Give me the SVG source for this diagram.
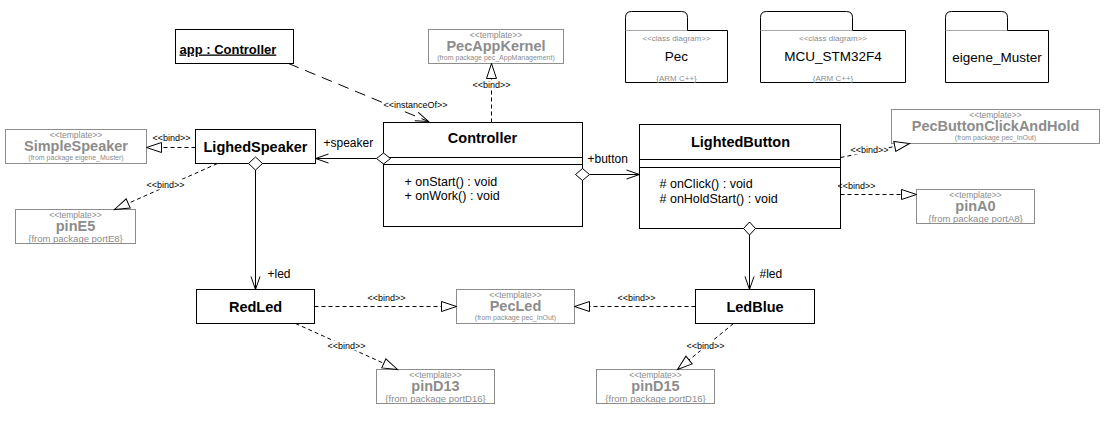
<svg xmlns="http://www.w3.org/2000/svg" width="1110" height="421" viewBox="0 0 1110 421">
<style>
text{font-family:"Liberation Sans",Arial,sans-serif}
.box{fill:#fff;stroke:#000;stroke-width:1}
.tbox{fill:#fff;stroke:#8c8c8c;stroke-width:1}
.cn{font-size:14.5px;font-weight:bold;text-anchor:middle;fill:#000}
.op{font-size:12.5px;fill:#000}
.rl{font-size:12px;fill:#000}
.st{font-size:9px;fill:#000;text-anchor:middle}
.tt{font-size:8.5px;fill:#8c8c8c;text-anchor:middle}
.tn{font-size:14.5px;font-weight:bold;fill:#8c8c8c;text-anchor:middle}
.tf{font-size:7px;fill:#8c8c8c;text-anchor:middle}
.tf2{font-size:9.5px;fill:#8c8c8c;text-anchor:middle}
.pk{fill:none;stroke:#000;stroke-width:1}
.pkg{stroke:#aaa;stroke-width:1}
.ps{font-size:8px;fill:#8c8c8c;text-anchor:middle}
.pn{font-size:13.5px;fill:#000;text-anchor:middle}
.ln{fill:none;stroke:#000;stroke-width:1}
.d{stroke-dasharray:4,3}
.ld{stroke-dasharray:11,7}
.bg{fill:#fff;stroke:none}
.dia{fill:#fff;stroke:#000;stroke-width:1}
</style>
<defs>
<marker id="tri" markerUnits="userSpaceOnUse" markerWidth="18" markerHeight="12" viewBox="0 0 18 12" refX="16" refY="6" orient="auto">
<path d="M1,1 L16,6 L1,11 z" fill="#fff" stroke="#000" stroke-width="1"/>
</marker>
<marker id="open" markerUnits="userSpaceOnUse" markerWidth="16" markerHeight="12" viewBox="0 0 16 12" refX="14" refY="6" orient="auto">
<path d="M1,1.5 L14,6 L1,10.5" fill="none" stroke="#000" stroke-width="1"/>
</marker>
</defs>
<rect x="0" y="0" width="1110" height="421" fill="#fff"/>
<g transform="translate(0.5,0.5)">

<g id="app">
  <rect class="box" x="175" y="29" width="118" height="34"/>
  <text x="179" y="53" font-size="13px" font-weight="bold" text-decoration="underline">app : Controller</text>
</g>

<g id="PecAppKernel">
  <rect class="tbox" x="428" y="29" width="135" height="34"/>
  <text class="tt" x="495.5" y="37">&lt;&lt;template&gt;&gt;</text>
  <text class="tn" x="495.5" y="50">PecAppKernel</text>
  <text class="tf" x="495.5" y="59">(from package pec_AppManagement)</text>
</g>

<g id="Controller">
  <rect class="box" x="383" y="122" width="199" height="104"/>
  <line class="ln" x1="383" y1="157" x2="582" y2="157"/>
  <line class="ln" x1="383" y1="164" x2="582" y2="164"/>
  <text class="cn" x="482" y="142">Controller</text>
  <text class="op" x="404" y="185">+ onStart() : void</text>
  <text class="op" x="404" y="199">+ onWork() : void</text>
</g>

<g id="LighedSpeaker">
  <rect class="box" x="195" y="129" width="120" height="34"/>
  <text class="cn" x="255" y="151">LighedSpeaker</text>
</g>

<g id="SimpleSpeaker">
  <rect class="tbox" x="5" y="129" width="141" height="34"/>
  <text class="tt" x="75.5" y="137">&lt;&lt;template&gt;&gt;</text>
  <text class="tn" x="75.5" y="150">SimpleSpeaker</text>
  <text class="tf" x="75.5" y="159">(from package eigene_Muster)</text>
</g>

<g id="pinE5">
  <rect class="tbox" x="15" y="209" width="120" height="34"/>
  <text class="tt" x="75" y="217">&lt;&lt;template&gt;&gt;</text>
  <text class="tn" x="75" y="230">pinE5</text>
  <text class="tf2" x="75" y="241">{from package portE8}</text>
</g>

<g id="LightedButton">
  <rect class="box" x="639" y="124" width="201" height="104"/>
  <line class="ln" x1="639" y1="159" x2="840" y2="159"/>
  <line class="ln" x1="639" y1="167" x2="840" y2="167"/>
  <text class="cn" x="740" y="146">LightedButton</text>
  <text class="op" x="659" y="187"># onClick() : void</text>
  <text class="op" x="659" y="202"># onHoldStart() : void</text>
</g>

<g id="PecButtonClickAndHold">
  <rect class="tbox" x="891" y="109" width="208" height="34"/>
  <text class="tt" x="995" y="117">&lt;&lt;template&gt;&gt;</text>
  <text class="tn" x="995" y="130">PecButtonClickAndHold</text>
  <text class="tf" x="995" y="139">(from package pec_InOut)</text>
</g>

<g id="pinA0">
  <rect class="tbox" x="916" y="189" width="118" height="34"/>
  <text class="tt" x="975" y="197">&lt;&lt;template&gt;&gt;</text>
  <text class="tn" x="975" y="210">pinA0</text>
  <text class="tf2" x="975" y="221">{from package portA8}</text>
</g>

<g id="RedLed">
  <rect class="box" x="196" y="289" width="118" height="34"/>
  <text class="cn" x="255" y="311">RedLed</text>
</g>

<g id="PecLed">
  <rect class="tbox" x="456" y="289" width="118" height="34"/>
  <text class="tt" x="515" y="297">&lt;&lt;template&gt;&gt;</text>
  <text class="tn" x="515" y="310">PecLed</text>
  <text class="tf" x="515" y="319">(from package pec_InOut)</text>
</g>

<g id="LedBlue">
  <rect class="box" x="695" y="289" width="119" height="34"/>
  <text class="cn" x="754.5" y="311">LedBlue</text>
</g>

<g id="pinD13">
  <rect class="tbox" x="376" y="369" width="118" height="34"/>
  <text class="tt" x="435" y="377">&lt;&lt;template&gt;&gt;</text>
  <text class="tn" x="435" y="390">pinD13</text>
  <text class="tf2" x="435" y="401">{from package portD16}</text>
</g>

<g id="pinD15">
  <rect class="tbox" x="596" y="369" width="118" height="34"/>
  <text class="tt" x="655" y="377">&lt;&lt;template&gt;&gt;</text>
  <text class="tn" x="655" y="390">pinD15</text>
  <text class="tf2" x="655" y="401">{from package portD16}</text>
</g>

<g id="pkg-Pec">
  <path class="pk" d="M625,30 V17 Q625,11 631,11 H681 Q687,11 687,17 V30"/>
  <line class="pkg" x1="625" y1="30" x2="687" y2="30"/>
  <path class="pk" d="M687,30 H727 V82 H625 V30"/>
  <text class="ps" x="676" y="40">&lt;&lt;class diagram&gt;&gt;</text>
  <text class="pn" x="676" y="60">Pec</text>
  <text class="ps" x="676" y="80">{ARM C++}</text>
</g>

<g id="pkg-MCU_STM32F4">
  <path class="pk" d="M760,30 V17 Q760,11 766,11 H846 Q852,11 852,17 V30"/>
  <line class="pkg" x1="760" y1="30" x2="852" y2="30"/>
  <path class="pk" d="M852,30 H905 V82 H760 V30"/>
  <text class="ps" x="832.5" y="40">&lt;&lt;class diagram&gt;&gt;</text>
  <text class="pn" x="832.5" y="60">MCU_STM32F4</text>
  <text class="ps" x="832.5" y="80">{ARM C++}</text>
</g>

<g id="pkg-eigene_Muster">
  <path class="pk" d="M945,30 V17 Q945,11 951,11 H1001 Q1007,11 1007,17 V30"/>
  <line class="pkg" x1="945" y1="30" x2="1007" y2="30"/>
  <path class="pk" d="M1007,30 H1048 V82 H945 V30"/>
  <text class="pn" x="996.5" y="61">eigene_Muster</text>
</g>

<g id="connectors">
  <!-- instanceOf -->
  <path class="ln ld" d="M288,63 L428,121" marker-end="url(#open)"/>
  <rect class="bg" x="382" y="99" width="66" height="10"/>
  <text class="st" x="415" y="107">&lt;&lt;instanceOf&gt;&gt;</text>
  <!-- bind Controller -> PecAppKernel -->
  <path class="ln d" d="M491,122 L491,63" marker-end="url(#tri)"/>
  <rect class="bg" x="473" y="79" width="37" height="10"/>
  <text class="st" x="491" y="87">&lt;&lt;bind&gt;&gt;</text>
  <!-- speaker association -->
  <path class="ln" d="M376,158 L315,158" marker-end="url(#open)"/>
  <polygon class="dia" points="376,158 383,152.5 390,158 383,163.5"/>
  <text class="rl" x="323" y="146">+speaker</text>
  <!-- button association -->
  <path class="ln" d="M589,174 L639,174" marker-end="url(#open)"/>
  <polygon class="dia" points="575,174 582,168 589,174 582,180"/>
  <text class="rl" x="587" y="162">+button</text>
  <!-- led association -->
  <path class="ln" d="M255,169.5 L255,289" marker-end="url(#open)"/>
  <polygon class="dia" points="255,156.5 262,163 255,169.5 248,163"/>
  <text class="rl" x="267" y="277">+led</text>
  <!-- #led association -->
  <path class="ln" d="M749,234.5 L749,289" marker-end="url(#open)"/>
  <polygon class="dia" points="749,221.5 755,228 749,234.5 743,228"/>
  <text class="rl" x="759" y="277">#led</text>
  <!-- bind LighedSpeaker -> SimpleSpeaker -->
  <path class="ln d" d="M195,147 L146,147" marker-end="url(#tri)"/>
  <text class="st" x="171" y="140">&lt;&lt;bind&gt;&gt;</text>
  <!-- bind LighedSpeaker -> pinE5 -->
  <path class="ln d" d="M217,163 L114,209" marker-end="url(#tri)"/>
  <rect class="bg" x="147" y="179" width="37" height="10"/>
  <text class="st" x="165" y="187">&lt;&lt;bind&gt;&gt;</text>
  <!-- bind LightedButton -> PecButtonClickAndHold -->
  <path class="ln d" d="M840,157 L909,143" marker-end="url(#tri)"/>
  <rect class="bg" x="851" y="144" width="37" height="10"/>
  <text class="st" x="869" y="152">&lt;&lt;bind&gt;&gt;</text>
  <!-- bind LightedButton -> pinA0 -->
  <path class="ln d" d="M840,194 L916,194" marker-end="url(#tri)"/>
  <text class="st" x="856" y="188">&lt;&lt;bind&gt;&gt;</text>
  <!-- bind RedLed -> PecLed -->
  <path class="ln d" d="M314,306 L456,306" marker-end="url(#tri)"/>
  <text class="st" x="386" y="300">&lt;&lt;bind&gt;&gt;</text>
  <!-- bind LedBlue -> PecLed -->
  <path class="ln d" d="M695,306 L574,306" marker-end="url(#tri)"/>
  <text class="st" x="636" y="300">&lt;&lt;bind&gt;&gt;</text>
  <!-- bind RedLed -> pinD13 -->
  <path class="ln d" d="M295,323 L397,369" marker-end="url(#tri)"/>
  <rect class="bg" x="328" y="340" width="37" height="10"/>
  <text class="st" x="346" y="348">&lt;&lt;bind&gt;&gt;</text>
  <!-- bind LedBlue -> pinD15 -->
  <path class="ln d" d="M733,323 L677,369" marker-end="url(#tri)"/>
  <rect class="bg" x="687" y="340" width="37" height="10"/>
  <text class="st" x="705" y="348">&lt;&lt;bind&gt;&gt;</text>
</g>

</g>
</svg>
